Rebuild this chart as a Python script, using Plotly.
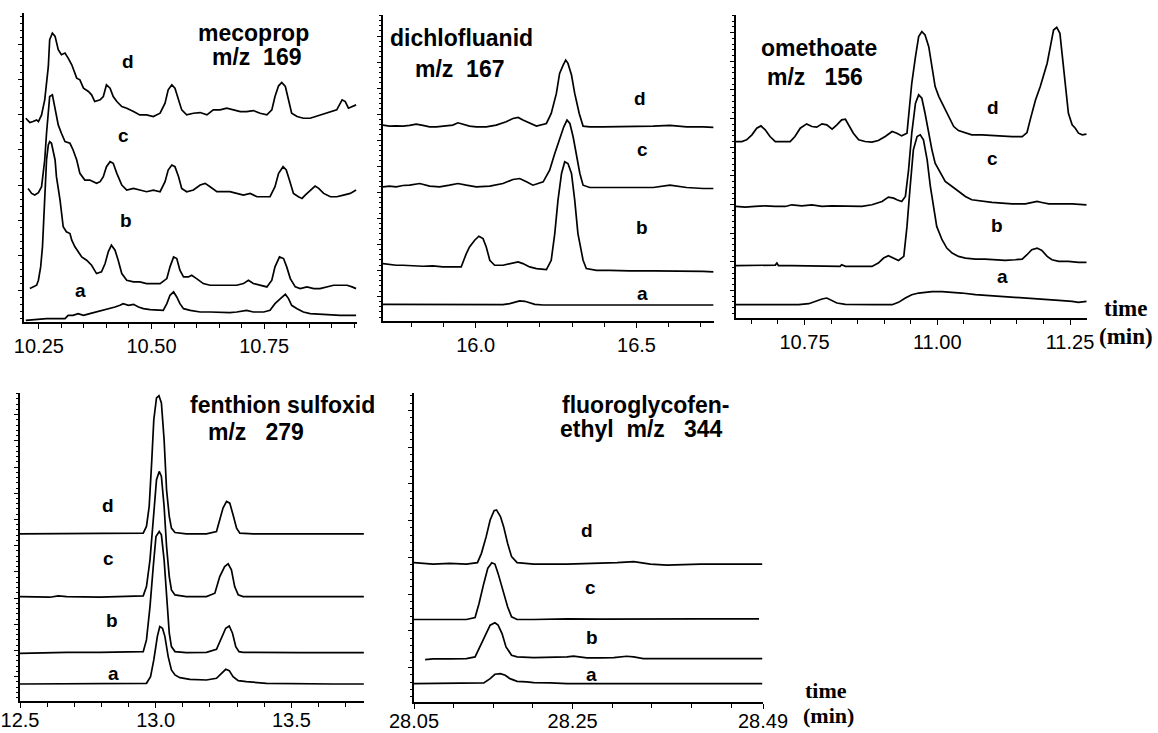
import plotly.graph_objects as go

W, H = 1158, 733

# ---------------- data: retention time (min) and intensity (arb. units) ----------------
# mecoprop m/z 169
meco_d_t = [10.221, 10.230, 10.237, 10.245, 10.249, 10.256, 10.263, 10.271, 10.274, 10.280, 10.286, 10.293, 10.300, 10.308, 10.315, 10.323, 10.334, 10.341, 10.349, 10.360, 10.367, 10.374, 10.386, 10.393, 10.400, 10.408, 10.415, 10.423, 10.434, 10.445, 10.460, 10.474, 10.489, 10.504, 10.519, 10.530, 10.537, 10.545, 10.552, 10.560, 10.567, 10.578, 10.593, 10.608, 10.623, 10.637, 10.652, 10.667, 10.682, 10.697, 10.711, 10.726, 10.741, 10.756, 10.767, 10.774, 10.782, 10.789, 10.797, 10.804, 10.811, 10.823, 10.837, 10.852, 10.874, 10.897, 10.911, 10.923, 10.930, 10.937, 10.945, 10.954]
meco_d_i = [61.0, 59.7, 60.0, 60.5, 60.0, 62.0, 66.5, 76.5, 84.5, 86.5, 85.5, 81.5, 80.0, 80.5, 79.0, 77.0, 73.0, 72.5, 70.0, 69.0, 68.0, 66.0, 66.5, 67.5, 71.0, 70.0, 67.5, 66.0, 64.5, 64.0, 63.0, 62.0, 62.0, 61.5, 62.5, 65.5, 69.5, 71.0, 70.0, 66.5, 63.5, 62.0, 62.5, 62.7, 62.0, 63.5, 63.5, 64.0, 63.5, 63.0, 63.0, 63.3, 62.5, 62.0, 63.5, 67.5, 70.7, 71.7, 70.5, 66.5, 62.5, 61.5, 61.0, 61.0, 62.0, 63.0, 63.5, 66.5, 66.0, 64.0, 64.5, 65.0]
meco_c_t = [10.226, 10.234, 10.241, 10.249, 10.256, 10.263, 10.267, 10.271, 10.274, 10.280, 10.286, 10.293, 10.300, 10.308, 10.319, 10.326, 10.334, 10.341, 10.352, 10.363, 10.378, 10.386, 10.393, 10.400, 10.408, 10.415, 10.423, 10.434, 10.445, 10.460, 10.474, 10.489, 10.504, 10.519, 10.530, 10.537, 10.545, 10.552, 10.560, 10.567, 10.578, 10.593, 10.608, 10.619, 10.630, 10.645, 10.660, 10.674, 10.689, 10.704, 10.719, 10.734, 10.749, 10.763, 10.774, 10.782, 10.792, 10.799, 10.806, 10.815, 10.826, 10.834, 10.841, 10.852, 10.863, 10.871, 10.882, 10.897, 10.911, 10.926, 10.941, 10.954]
meco_c_i = [40.0, 38.5, 38.0, 38.7, 40.5, 48.5, 56.5, 64.5, 67.5, 68.0, 63.5, 59.0, 56.5, 54.0, 53.5, 51.5, 48.5, 44.5, 42.5, 42.5, 41.5, 42.0, 43.5, 46.5, 48.0, 47.5, 44.5, 41.0, 39.5, 40.0, 39.5, 39.0, 39.5, 39.0, 42.0, 45.5, 47.0, 46.5, 43.5, 40.0, 39.0, 39.5, 41.0, 41.5, 40.5, 39.0, 39.0, 39.0, 38.5, 38.0, 38.5, 37.5, 37.5, 37.5, 40.5, 44.5, 46.5, 45.5, 42.5, 38.5, 37.5, 37.0, 38.0, 39.5, 40.7, 40.0, 38.5, 37.5, 37.5, 38.0, 38.5, 39.5]
meco_b_t = [10.230, 10.237, 10.245, 10.249, 10.254, 10.258, 10.261, 10.264, 10.267, 10.271, 10.274, 10.278, 10.282, 10.286, 10.289, 10.297, 10.304, 10.311, 10.319, 10.323, 10.330, 10.337, 10.345, 10.356, 10.367, 10.378, 10.389, 10.397, 10.404, 10.411, 10.419, 10.426, 10.434, 10.445, 10.460, 10.474, 10.489, 10.504, 10.519, 10.534, 10.541, 10.549, 10.556, 10.563, 10.571, 10.582, 10.589, 10.600, 10.615, 10.630, 10.645, 10.660, 10.674, 10.689, 10.704, 10.715, 10.726, 10.741, 10.756, 10.767, 10.774, 10.784, 10.793, 10.800, 10.808, 10.819, 10.830, 10.845, 10.860, 10.874, 10.889, 10.904, 10.919, 10.934, 10.945, 10.954]
meco_b_i = [10.0, 10.5, 11.0, 12.5, 16.5, 22.5, 31.5, 40.5, 48.5, 53.0, 54.0, 53.5, 50.5, 48.5, 43.5, 36.5, 28.5, 27.0, 26.5, 24.5, 22.5, 21.0, 19.5, 18.5, 17.0, 14.5, 15.0, 17.5, 21.0, 23.0, 21.5, 18.5, 14.5, 12.5, 12.0, 12.0, 11.5, 11.5, 11.5, 13.0, 16.5, 19.5, 19.0, 15.5, 13.5, 13.5, 14.0, 13.0, 11.5, 11.0, 11.0, 11.0, 11.0, 11.0, 11.5, 12.5, 11.5, 11.0, 10.5, 12.5, 16.5, 19.5, 19.0, 16.5, 13.0, 10.5, 10.0, 10.5, 10.0, 10.0, 10.5, 11.0, 11.0, 11.0, 10.5, 10.0]
meco_a_t = [10.221, 10.237, 10.252, 10.267, 10.282, 10.297, 10.308, 10.315, 10.326, 10.337, 10.349, 10.363, 10.378, 10.393, 10.408, 10.419, 10.430, 10.437, 10.449, 10.460, 10.471, 10.482, 10.497, 10.511, 10.526, 10.534, 10.541, 10.549, 10.556, 10.563, 10.571, 10.586, 10.608, 10.630, 10.652, 10.674, 10.689, 10.711, 10.726, 10.749, 10.763, 10.774, 10.786, 10.797, 10.804, 10.811, 10.823, 10.837, 10.852, 10.874, 10.897, 10.919, 10.941, 10.954]
meco_a_i = [0.5, 0.7, 0.8, 1.0, 1.0, 1.0, 1.0, 2.0, 2.0, 2.5, 2.0, 2.5, 3.0, 3.5, 4.0, 4.5, 5.0, 5.5, 5.0, 5.3, 4.5, 4.0, 3.7, 3.5, 3.5, 5.5, 8.0, 9.0, 7.5, 5.5, 4.0, 3.5, 3.0, 3.0, 2.8, 2.8, 3.0, 3.5, 3.0, 3.0, 3.5, 5.5, 7.0, 8.3, 7.0, 5.0, 4.0, 3.0, 2.5, 2.3, 2.0, 2.0, 2.0, 2.0]

# dichlofluanid m/z 167
dich_d_t = [15.712, 15.732, 15.753, 15.774, 15.795, 15.815, 15.836, 15.857, 15.878, 15.898, 15.929, 15.945, 15.961, 15.981, 16.002, 16.033, 16.064, 16.095, 16.116, 16.132, 16.147, 16.168, 16.189, 16.220, 16.235, 16.251, 16.261, 16.272, 16.280, 16.287, 16.298, 16.308, 16.322, 16.334, 16.355, 16.396, 16.448, 16.500, 16.552, 16.604, 16.656, 16.707, 16.739]
dich_d_i = [58.7, 58.4, 58.5, 58.4, 58.6, 59.0, 58.6, 58.2, 58.2, 58.4, 58.7, 59.4, 58.9, 58.4, 58.2, 58.2, 58.7, 59.7, 60.7, 61.0, 60.2, 59.2, 58.4, 59.2, 62.2, 68.2, 74.2, 76.7, 78.2, 77.2, 73.7, 68.2, 62.2, 58.4, 58.2, 58.2, 58.2, 58.4, 58.4, 58.6, 58.2, 58.2, 58.0]
dich_c_t = [15.712, 15.732, 15.753, 15.774, 15.795, 15.826, 15.857, 15.888, 15.919, 15.945, 15.971, 16.002, 16.044, 16.085, 16.116, 16.137, 16.158, 16.178, 16.210, 16.230, 16.246, 16.261, 16.274, 16.284, 16.293, 16.303, 16.313, 16.324, 16.334, 16.355, 16.396, 16.448, 16.500, 16.552, 16.604, 16.656, 16.707, 16.739]
dich_c_i = [40.2, 40.4, 40.2, 40.6, 40.7, 41.2, 40.4, 40.2, 40.7, 41.2, 40.7, 40.2, 40.4, 41.2, 42.4, 42.7, 41.7, 40.7, 41.7, 45.2, 50.2, 54.2, 58.2, 60.2, 59.2, 55.2, 50.2, 44.2, 40.7, 40.0, 40.0, 40.0, 40.2, 40.0, 40.7, 40.0, 39.7, 39.7]
dich_b_t = [15.712, 15.732, 15.753, 15.774, 15.805, 15.836, 15.867, 15.898, 15.929, 15.955, 15.971, 15.981, 15.997, 16.010, 16.023, 16.033, 16.044, 16.059, 16.085, 16.116, 16.132, 16.147, 16.168, 16.189, 16.220, 16.235, 16.246, 16.256, 16.267, 16.277, 16.287, 16.298, 16.308, 16.318, 16.334, 16.344, 16.376, 16.417, 16.479, 16.552, 16.604, 16.656, 16.707, 16.739]
dich_b_i = [17.2, 16.9, 16.7, 16.7, 16.5, 16.4, 16.5, 16.2, 16.2, 16.2, 20.2, 22.2, 24.2, 25.4, 24.7, 22.2, 18.2, 16.7, 16.7, 17.5, 17.7, 17.2, 16.2, 15.7, 15.4, 18.2, 26.2, 36.2, 44.2, 47.7, 47.2, 44.2, 36.2, 26.2, 18.2, 15.7, 15.2, 15.2, 15.0, 15.0, 15.0, 14.9, 14.9, 14.7]
dich_a_t = [15.712, 15.774, 15.826, 15.878, 15.929, 15.981, 16.033, 16.085, 16.106, 16.121, 16.137, 16.153, 16.168, 16.184, 16.210, 16.293, 16.396, 16.500, 16.604, 16.707, 16.739]
dich_a_i = [5.0, 5.0, 5.0, 4.9, 4.9, 4.9, 4.9, 4.9, 5.2, 5.7, 6.0, 5.9, 5.5, 5.0, 4.8, 4.8, 4.8, 4.8, 4.8, 4.8, 4.8]

# omethoate m/z 156
ome_d_t = [10.621, 10.632, 10.641, 10.651, 10.660, 10.668, 10.676, 10.685, 10.695, 10.707, 10.723, 10.732, 10.742, 10.754, 10.764, 10.773, 10.783, 10.792, 10.802, 10.811, 10.820, 10.827, 10.833, 10.842, 10.852, 10.864, 10.877, 10.889, 10.902, 10.915, 10.924, 10.933, 10.943, 10.947, 10.952, 10.959, 10.965, 10.971, 10.977, 10.984, 10.990, 10.996, 11.003, 11.012, 11.021, 11.031, 11.040, 11.053, 11.065, 11.084, 11.103, 11.122, 11.141, 11.160, 11.169, 11.175, 11.185, 11.194, 11.200, 11.207, 11.213, 11.219, 11.225, 11.231, 11.235, 11.241, 11.247, 11.254, 11.260, 11.266, 11.273, 11.281]
ome_d_i = [53.0, 53.0, 53.5, 55.0, 57.0, 57.7, 56.5, 54.5, 53.0, 53.0, 53.0, 54.5, 57.0, 58.3, 57.5, 57.3, 58.3, 58.0, 56.7, 58.0, 59.5, 59.7, 58.0, 55.5, 53.5, 53.0, 52.8, 53.3, 54.5, 56.0, 55.5, 54.7, 55.5, 62.5, 70.5, 78.5, 84.5, 86.0, 85.0, 81.5, 75.5, 69.5, 66.5, 63.5, 60.5, 57.5, 56.3, 55.7, 55.0, 55.0, 54.8, 54.5, 54.5, 54.5, 55.7, 59.5, 65.5, 69.5, 72.5, 76.5, 81.5, 86.5, 87.3, 85.5, 79.5, 69.5, 61.5, 58.0, 57.0, 55.5, 55.0, 55.2]
ome_c_t = [10.621, 10.638, 10.657, 10.676, 10.695, 10.714, 10.726, 10.745, 10.764, 10.783, 10.802, 10.820, 10.839, 10.858, 10.877, 10.896, 10.908, 10.918, 10.924, 10.933, 10.940, 10.946, 10.952, 10.959, 10.965, 10.971, 10.977, 10.984, 10.990, 10.996, 11.006, 11.015, 11.028, 11.040, 11.053, 11.065, 11.084, 11.103, 11.122, 11.141, 11.166, 11.178, 11.188, 11.197, 11.210, 11.229, 11.254, 11.281]
ome_c_i = [33.5, 33.3, 33.5, 33.7, 33.5, 33.5, 34.0, 33.7, 34.0, 33.5, 33.7, 33.7, 33.7, 33.5, 34.0, 35.0, 36.3, 36.0, 35.5, 35.0, 36.5, 44.5, 55.5, 64.5, 67.0, 66.0, 61.5, 55.5, 50.5, 46.5, 43.5, 41.0, 39.5, 38.0, 36.5, 35.5, 35.0, 34.7, 34.5, 34.3, 34.3, 34.7, 35.0, 34.7, 34.3, 34.3, 34.3, 34.0]
ome_b_t = [10.621, 10.638, 10.663, 10.695, 10.698, 10.701, 10.726, 10.758, 10.789, 10.817, 10.820, 10.827, 10.852, 10.877, 10.889, 10.899, 10.908, 10.918, 10.927, 10.937, 10.943, 10.949, 10.955, 10.962, 10.968, 10.974, 10.981, 10.987, 10.993, 10.999, 11.009, 11.018, 11.028, 11.040, 11.053, 11.072, 11.090, 11.109, 11.128, 11.147, 11.160, 11.169, 11.178, 11.188, 11.197, 11.207, 11.216, 11.229, 11.247, 11.266, 11.281]
ome_b_i = [15.7, 15.7, 15.7, 15.9, 16.5, 15.7, 15.7, 15.7, 15.7, 15.5, 16.0, 15.5, 15.5, 15.5, 16.5, 18.0, 18.7, 18.0, 17.3, 18.5, 27.5, 39.5, 50.5, 54.5, 55.0, 53.5, 47.5, 39.5, 33.5, 27.5, 23.5, 21.0, 19.5, 18.5, 18.0, 17.7, 17.7, 17.5, 17.3, 17.5, 17.7, 19.0, 20.5, 21.0, 20.3, 18.5, 17.5, 17.0, 17.0, 16.7, 16.7]
ome_a_t = [10.621, 10.651, 10.682, 10.714, 10.739, 10.758, 10.770, 10.783, 10.792, 10.802, 10.811, 10.827, 10.852, 10.883, 10.915, 10.927, 10.940, 10.952, 10.965, 10.977, 10.990, 11.009, 11.028, 11.046, 11.072, 11.103, 11.134, 11.166, 11.197, 11.229, 11.254, 11.266, 11.281]
ome_a_i = [4.0, 4.0, 4.0, 4.0, 4.0, 4.3, 5.0, 5.7, 6.0, 5.2, 4.5, 4.1, 4.0, 4.0, 4.0, 4.7, 6.0, 7.0, 7.5, 7.7, 7.9, 7.9, 7.7, 7.5, 7.0, 6.7, 6.3, 6.0, 5.7, 5.3, 5.0, 4.7, 5.0]

# fenthion sulfoxid m/z 279
fen_d_t = [12.500, 12.610, 12.672, 12.794, 12.917, 12.954, 12.966, 12.976, 12.985, 12.993, 13.003, 13.012, 13.021, 13.031, 13.040, 13.050, 13.058, 13.071, 13.113, 13.187, 13.224, 13.236, 13.248, 13.261, 13.273, 13.285, 13.298, 13.310, 13.359, 13.469, 13.592, 13.715, 13.767]
fen_d_i = [50.1, 50.1, 50.3, 50.1, 50.1, 50.3, 52.3, 58.3, 71.3, 84.3, 90.8, 91.5, 89.3, 78.3, 63.3, 55.3, 51.8, 50.5, 50.1, 50.1, 50.8, 54.3, 57.8, 59.8, 59.3, 55.8, 51.8, 50.3, 50.1, 50.1, 50.1, 50.1, 50.1]
fen_c_t = [12.500, 12.610, 12.641, 12.672, 12.794, 12.917, 12.954, 12.966, 12.979, 12.991, 13.003, 13.013, 13.021, 13.031, 13.040, 13.050, 13.058, 13.071, 13.113, 13.187, 13.218, 13.236, 13.254, 13.267, 13.279, 13.291, 13.304, 13.322, 13.408, 13.531, 13.653, 13.767]
fen_c_i = [31.3, 31.1, 31.5, 31.3, 31.1, 31.3, 31.5, 34.3, 42.3, 54.3, 66.3, 68.8, 67.3, 58.3, 46.3, 37.3, 33.3, 31.8, 31.3, 31.3, 32.3, 37.3, 40.3, 41.1, 39.3, 34.3, 31.8, 31.3, 31.3, 31.3, 31.3, 31.3]
fen_b_t = [12.500, 12.610, 12.672, 12.794, 12.917, 12.954, 12.966, 12.979, 12.991, 13.001, 13.013, 13.021, 13.031, 13.040, 13.050, 13.058, 13.071, 13.113, 13.187, 13.224, 13.242, 13.258, 13.271, 13.283, 13.295, 13.307, 13.322, 13.408, 13.531, 13.653, 13.767]
fen_b_i = [14.3, 14.5, 14.6, 14.6, 14.6, 14.8, 18.3, 28.3, 40.3, 49.3, 50.8, 49.8, 42.3, 30.3, 20.3, 16.3, 14.8, 14.5, 14.6, 15.5, 18.8, 21.8, 22.5, 20.3, 16.3, 14.8, 14.6, 14.5, 14.5, 14.5, 14.5]
fen_a_t = [12.500, 12.610, 12.794, 12.917, 12.966, 12.981, 12.993, 13.006, 13.015, 13.025, 13.034, 13.046, 13.058, 13.071, 13.089, 13.126, 13.187, 13.224, 13.242, 13.258, 13.271, 13.285, 13.304, 13.334, 13.408, 13.531, 13.653, 13.767]
fen_a_i = [5.1, 5.1, 5.1, 5.1, 5.3, 7.3, 12.3, 19.3, 22.3, 21.8, 19.3, 13.3, 9.3, 7.8, 7.0, 6.5, 6.3, 6.8, 8.3, 9.5, 9.1, 7.3, 6.1, 5.8, 5.3, 5.1, 5.1, 5.1]

# fluoroglycofen-ethyl m/z 344
fluo_d_t = [28.050, 28.074, 28.095, 28.116, 28.130, 28.135, 28.141, 28.146, 28.151, 28.154, 28.159, 28.163, 28.168, 28.173, 28.180, 28.201, 28.243, 28.285, 28.306, 28.327, 28.348, 28.369, 28.411, 28.453, 28.489]
fluo_d_i = [41.7, 41.3, 41.5, 41.3, 41.7, 44.5, 49.5, 54.5, 57.3, 57.5, 55.5, 52.5, 47.5, 43.5, 41.7, 41.3, 41.3, 41.5, 41.7, 42.0, 41.3, 41.0, 41.3, 41.3, 41.3]
fluo_c_t = [28.050, 28.074, 28.095, 28.116, 28.127, 28.132, 28.138, 28.143, 28.148, 28.152, 28.156, 28.162, 28.168, 28.173, 28.180, 28.201, 28.243, 28.285, 28.327, 28.369, 28.411, 28.453, 28.485]
fluo_c_i = [24.7, 24.7, 24.7, 24.7, 25.3, 29.5, 35.5, 40.0, 41.7, 41.3, 38.5, 33.5, 28.5, 25.5, 24.7, 24.7, 24.9, 24.8, 24.9, 24.9, 24.9, 24.9, 24.9]
fluo_b_t = [28.064, 28.074, 28.095, 28.116, 28.127, 28.133, 28.140, 28.146, 28.152, 28.156, 28.161, 28.166, 28.173, 28.180, 28.201, 28.222, 28.243, 28.251, 28.268, 28.285, 28.302, 28.318, 28.327, 28.339, 28.369, 28.411, 28.453, 28.489]
fluo_b_i = [12.7, 12.9, 12.9, 13.0, 13.5, 16.5, 20.5, 23.0, 23.7, 23.0, 20.5, 16.5, 14.0, 13.5, 13.3, 13.3, 13.5, 13.7, 13.2, 13.2, 13.3, 13.7, 13.5, 13.0, 13.0, 13.0, 13.0, 13.0]
fluo_a_t = [28.050, 28.074, 28.095, 28.116, 28.138, 28.146, 28.152, 28.159, 28.165, 28.171, 28.180, 28.192, 28.201, 28.222, 28.243, 28.285, 28.327, 28.369, 28.411, 28.453, 28.489]
fluo_a_i = [5.5, 5.5, 5.5, 5.5, 5.7, 7.0, 8.3, 8.5, 8.0, 7.0, 6.2, 6.0, 5.8, 5.7, 5.5, 5.5, 5.5, 5.5, 5.5, 5.5, 5.5]

# tick labels
meco_ticks = [10.25, 10.50, 10.75]
meco_ticktext = ["10.25", "10.50", "10.75"]
dich_ticks = [16.0, 16.5]
dich_ticktext = ["16.0", "16.5"]
ome_ticks = [10.75, 11.00, 11.25]
ome_ticktext = ["10.75", "11.00", "11.25"]
fen_ticks = [12.5, 13.0, 13.5]
fen_ticktext = ["12.5", "13.0", "13.5"]
fluo_ticks = [28.05, 28.25, 28.49]
fluo_ticktext = ["28.05", "28.25", "28.49"]

# ---------------- layout helpers ----------------
panels = [
    dict(traces=[(meco_a_t, meco_a_i), (meco_b_t, meco_b_i), (meco_c_t, meco_c_i), (meco_d_t, meco_d_i)],
         xr=[10.217, 10.956], yr=[0, 92.5], tv=meco_ticks, tt=meco_ticktext, m0=10.25, md=0.05,
         y0=9.5, yd=10.5, box=(24, 13, 357, 322), so=0),
    dict(traces=[(dich_a_t, dich_a_i), (dich_b_t, dich_b_i), (dich_c_t, dich_c_i), (dich_d_t, dich_d_i)],
         xr=[15.712, 16.741], yr=[0, 91.7], tv=dich_ticks, tt=dich_ticktext, m0=16.0, md=0.1,
         y0=7.4, yd=7.8, box=(383, 15, 714, 321), so=0),
    dict(traces=[(ome_a_t, ome_a_i), (ome_b_t, ome_b_i), (ome_c_t, ome_c_i), (ome_d_t, ome_d_i)],
         xr=[10.621, 11.282], yr=[0, 91.0], tv=ome_ticks, tt=ome_ticktext, m0=10.75, md=0.05,
         y0=8.3, yd=8.6, box=(736, 15, 1087, 318), so=0),
    dict(traces=[(fen_a_t, fen_a_i), (fen_b_t, fen_b_i), (fen_c_t, fen_c_i), (fen_d_t, fen_d_i)],
         xr=[12.5, 13.7675], yr=[0, 92.3], tv=fen_ticks, tt=fen_ticktext, m0=12.5, md=0.1,
         y0=7.3, yd=7.85, box=(20, 393, 364, 701), so=-5),
    dict(traces=[(fluo_a_t, fluo_a_i), (fluo_b_t, fluo_b_i), (fluo_c_t, fluo_c_i), (fluo_d_t, fluo_d_i)],
         xr=[28.05, 28.49], yr=[0, 92.5], tv=fluo_ticks, tt=fluo_ticktext, m0=28.05, md=0.05,
         y0=10.3, yd=11.0, box=(414, 393, 763, 702), so=-5),
]

fig = go.Figure()
layout = {}
for k, p in enumerate(panels, start=1):
    xs = "x" if k == 1 else f"x{k}"
    ys = "y" if k == 1 else f"y{k}"
    for t, i in p["traces"]:
        fig.add_trace(go.Scatter(x=t, y=i, xaxis=xs, yaxis=ys, mode="lines",
                                 line=dict(color="black", width=1.7), hoverinfo="skip",
                                 showlegend=False))
    l, tp, r, b = p["box"]
    layout["xaxis" if k == 1 else f"xaxis{k}"] = dict(
        domain=[l / W, r / W], anchor=ys, range=p["xr"], automargin=False,
        showline=True, linecolor="black", linewidth=1.5, mirror=False,
        showgrid=False, zeroline=False,
        tickmode="array", tickvals=p["tv"], ticktext=p["tt"],
        ticks="outside", ticklen=5, tickwidth=1.2, tickcolor="black",
        ticklabelstandoff=p["so"],
        tickfont=dict(family="Liberation Sans, Arial", size=20, color="black"),
        minor=dict(tickmode="linear", tick0=p["m0"], dtick=p["md"], ticks="outside",
                   ticklen=4, tickwidth=1, tickcolor="black", showgrid=False),
        fixedrange=True,
    )
    layout["yaxis" if k == 1 else f"yaxis{k}"] = dict(
        domain=[1 - b / H, 1 - tp / H], anchor=xs, range=p["yr"], automargin=False,
        showline=True, linecolor="black", linewidth=1.5,
        showgrid=False, zeroline=False, showticklabels=False,
        tickmode="linear", tick0=p["y0"], dtick=p["yd"],
        ticks="outside", ticklen=4, tickwidth=1.2, tickcolor="black",
        minor=dict(tickmode="linear", tick0=p["y0"], dtick=p["yd"] / 5, ticks="outside",
                   ticklen=2, tickwidth=1, tickcolor="black", showgrid=False),
        fixedrange=True,
    )

SANS = "Liberation Sans, Arial"
SERIF = "Liberation Serif, Times New Roman"
NB = "\u00a0"


def ann(text, px, py, size, family=SANS):
    return dict(text=text, x=px / W, y=1 - py / H, xref="paper", yref="paper",
                showarrow=False, xanchor="center", yanchor="middle",
                font=dict(family=family, size=size, color="black", weight="bold"))


annotations = [
    ann("mecoprop", 253, 33, 23), ann("m/z" + NB * 2 + "169", 257, 57, 23),
    ann("d", 128, 61, 19), ann("c", 123, 135, 19), ann("b", 126, 220, 19), ann("a", 80, 290, 19),
    ann("dichlofluanid", 462, 38, 23), ann("m/z" + NB * 2 + "167", 460, 69, 23),
    ann("d", 640, 98, 19), ann("c", 642, 150, 19), ann("b", 642, 228, 19), ann("a", 642, 293, 19),
    ann("omethoate", 819, 48, 23), ann("m/z" + NB * 3 + "156", 815, 77, 23),
    ann("d", 993, 107, 19), ann("c", 992, 158, 19), ann("b", 997, 225, 19), ann("a", 1002, 277, 19),
    ann("fenthion sulfoxid", 282, 405, 23), ann("m/z" + NB * 3 + "279", 256, 432, 23),
    ann("d", 108, 505, 19), ann("c", 108, 558, 19), ann("b", 112, 620, 19), ann("a", 113, 673, 19),
    ann("fluoroglycofen-", 645, 405, 23), ann("ethyl" + NB * 2 + "m/z" + NB * 3 + "344", 641, 429, 23),
    ann("d", 587, 530, 19), ann("c", 590, 587, 19), ann("b", 592, 637, 19), ann("a", 591, 674, 19),
    ann("time", 1125, 308, 23, SERIF), ann("(min)", 1126, 336, 23, SERIF),
    ann("time", 826, 690, 22, SERIF), ann("(min)", 828, 715, 22, SERIF),
]

fig.update_layout(
    template="none",
    width=W, height=H, margin=dict(l=0, r=0, t=0, b=0, autoexpand=False),
    paper_bgcolor="white", plot_bgcolor="white", showlegend=False,
    annotations=annotations, **layout,
)

fig.write_html("out.html")
